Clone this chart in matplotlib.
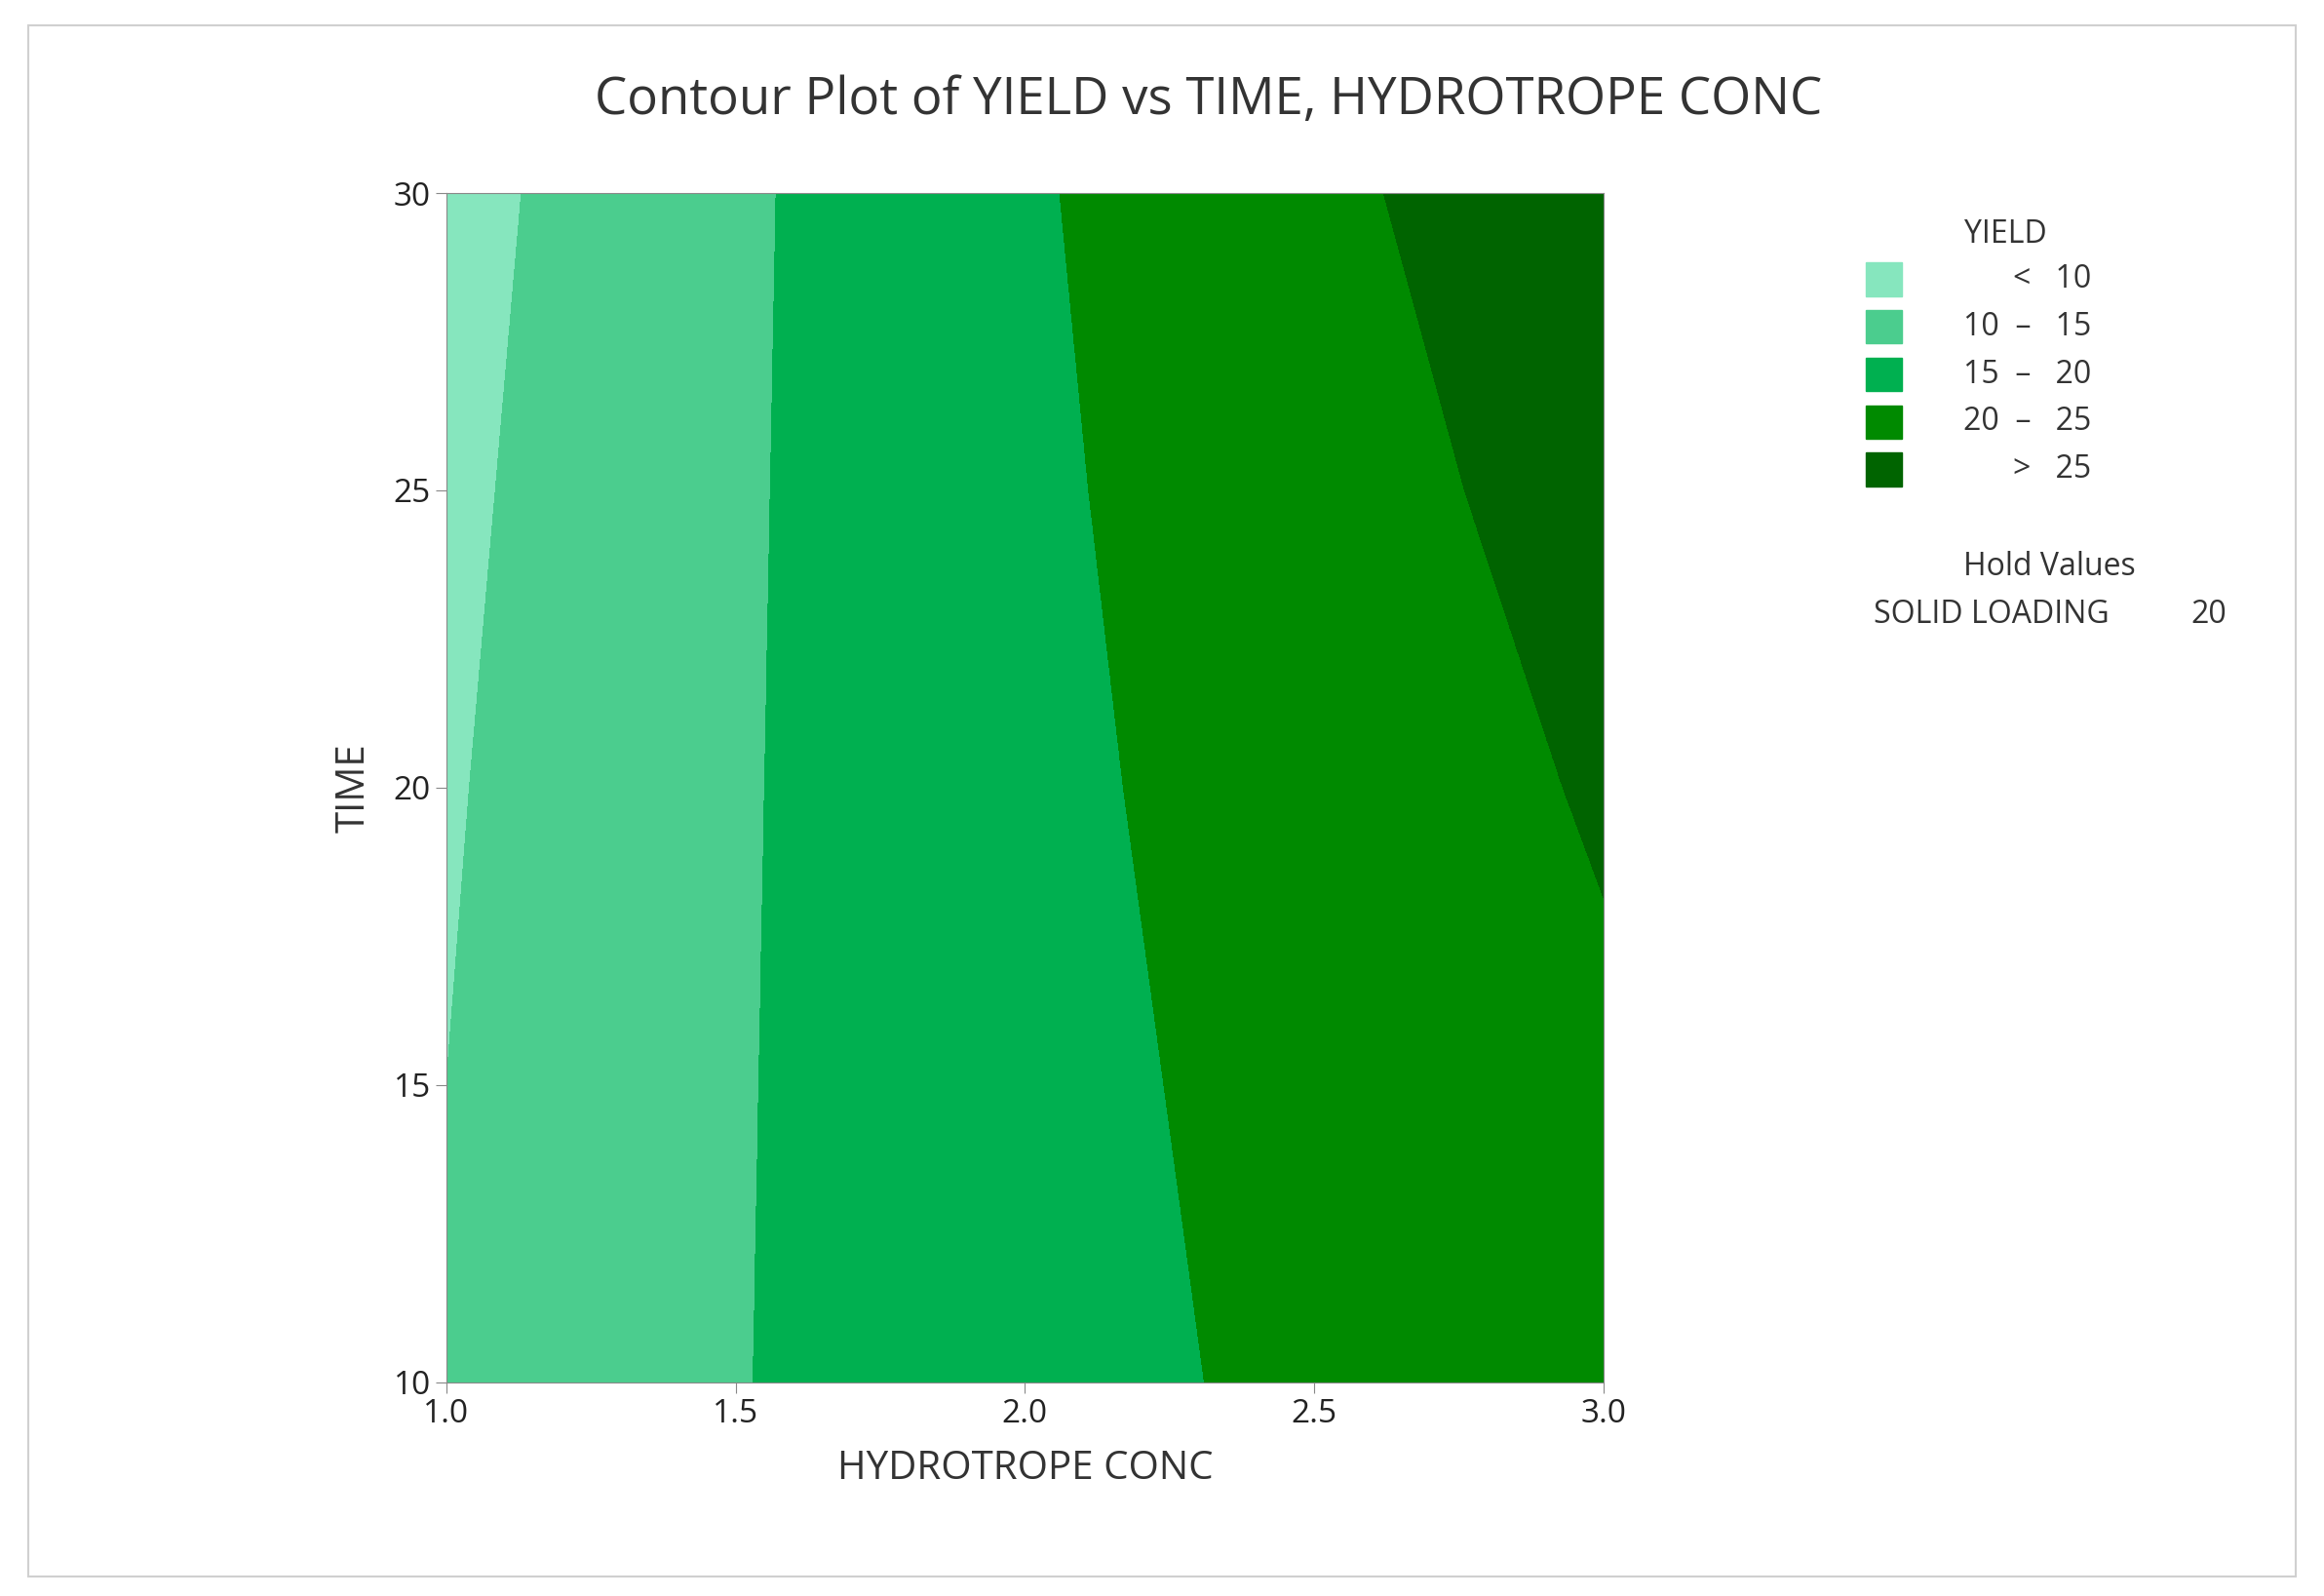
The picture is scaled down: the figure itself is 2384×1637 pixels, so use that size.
import numpy as np
import matplotlib
matplotlib.use("Agg")
import matplotlib.pyplot as plt
from matplotlib.patches import Rectangle

plt.rcParams["font.family"] = ["Open Sans", "DejaVu Sans"]

# contour levels and where each boundary crosses HYDROTROPE CONC at given TIME
levels = [10, 15, 20, 25]
time_pts = [10, 15, 20, 25, 30]
bound_x = {
    10: [0.96, 1.00, 1.04, 1.085, 1.13],
    15: [1.53, 1.54, 1.55, 1.56, 1.57],
    20: [2.31, 2.24, 2.17, 2.11, 2.06],
    25: [3.30, 3.12, 2.93, 2.76, 2.62],
}
colors = ["#86E6BE", "#4BCD8E", "#00B050", "#008A00", "#006400"]
labels = ["<   10", "10  –   15", "15  –   20", "20  –   25", ">   25"]

# build yield grid from boundary positions
xs = np.linspace(1.0, 3.0, 401)
ts = np.linspace(10, 30, 201)
Z = np.zeros((len(ts), len(xs)))
for i, t in enumerate(ts):
    bx = [np.interp(t, time_pts, bound_x[l]) for l in levels]
    px = [bx[0] - 1.0] + bx + [bx[-1] + 1.0]
    pv = [0] + levels + [35]
    Z[i] = np.interp(xs, px, pv)

fig = plt.figure(figsize=(23.84, 16.37), dpi=100)
fig.patches.append(Rectangle((0.012, 0.012), 0.976, 0.972, transform=fig.transFigure,
                             fill=False, edgecolor="#d0d0d0", linewidth=1.5))
ax = fig.add_axes([0.192, 0.134, 0.498, 0.745])
ax.contourf(xs, ts, Z, levels=[-100] + levels + [100], colors=colors)
ax.set_xlim(1, 3)
ax.set_ylim(10, 30)
ax.set_xticks([1.0, 1.5, 2.0, 2.5, 3.0])
ax.set_xticklabels(["1.0", "1.5", "2.0", "2.5", "3.0"])
ax.set_yticks([10, 15, 20, 25, 30])
ax.tick_params(labelsize=24, length=8, color="#888888", colors="#222222")
for sp in ax.spines.values():
    sp.set_edgecolor("#888888")
ax.set_xlabel("HYDROTROPE CONC", fontsize=29, color="#333333", labelpad=14)
ax.set_ylabel("TIME", fontsize=29, color="#333333", labelpad=14)
fig.text(0.52, 0.937, "Contour Plot of YIELD vs TIME, HYDROTROPE CONC",
         ha="center", va="center", fontsize=38, color="#333333")

# legend
fig.text(0.863, 0.853, "YIELD", ha="center", va="center", fontsize=23, color="#333333")
for k, (c, lab) in enumerate(zip(colors, labels)):
    y = 0.825 - k * 0.0298
    fig.patches.append(Rectangle((0.803, y - 0.0105), 0.0155, 0.021,
                                 transform=fig.transFigure, color=c))
    fig.text(0.9, y, lab, ha="right", va="center", fontsize=23, color="#333333")
fig.text(0.882, 0.645, "Hold Values", ha="center", va="center", fontsize=23, color="#333333")
fig.text(0.806, 0.615, "SOLID LOADING", ha="left", va="center", fontsize=23, color="#333333")
fig.text(0.958, 0.615, "20", ha="right", va="center", fontsize=23, color="#333333")

fig.savefig("out.png", dpi=100, facecolor="white")
